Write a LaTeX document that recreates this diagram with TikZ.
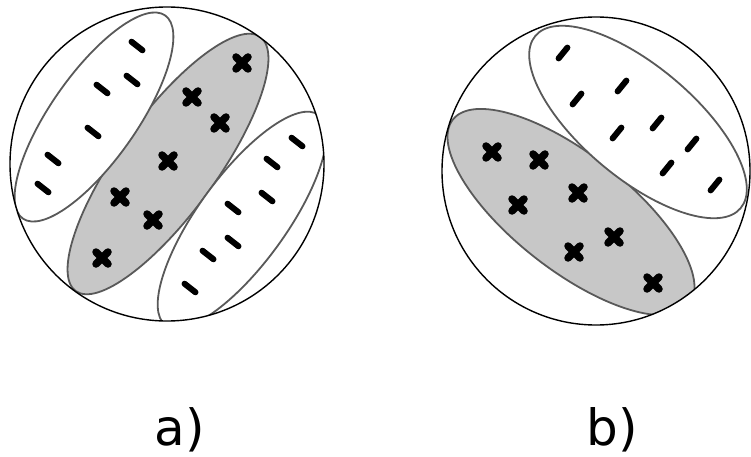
\documentclass[tikz,border=0pt]{standalone}
\usepackage{fontspec}
\setmainfont{DejaVu Sans}
\usepackage{tikz}
\usetikzlibrary{calc}
\tikzstyle{sphere} = [draw=black, line width=1.4pt]
\tikzstyle{cluster} = [draw=black!65, line width=1.8pt]
\tikzstyle{poscluster} = [cluster, fill=black!22]
\tikzstyle{negcluster} = [cluster, fill=white]
\tikzstyle{posmark} = [line width=7.5pt, line cap=round]
\tikzstyle{negmark} = [line width=6pt, line cap=round]
\tikzstyle{caption} = [anchor=base, font=\fontsize{50}{50}\selectfont]

\begin{document}
\begin{tikzpicture}[x=1pt, y=-1pt]
  \useasboundingbox (0,0) rectangle (751,457);
  \coordinate (ca) at (167,164);
  \coordinate (cb) at (596,171);

  % a) three groups
  \begin{scope}
    \clip (ca) circle [radius=157];
    \draw[poscluster, rotate around={54:(168,164)}] (168,164) ellipse [x radius=157, y radius=49];
    \draw[negcluster, rotate around={55:(94,117)}] (94,117) ellipse [x radius=124, y radius=43];
    \draw[negcluster, rotate around={54:(242,220)}] (242,220) ellipse [x radius=130, y radius=44];
  \end{scope}
  \draw[sphere] (ca) circle [radius=157];

  % b) two groups
  \begin{scope}
    \clip (cb) circle [radius=154];
    \draw[poscluster, rotate around={-38:(571,212)}] (571,212) ellipse [x radius=150, y radius=58];
    \draw[negcluster, rotate around={-40:(638,122)}] (638,122) ellipse [x radius=134, y radius=56];
  \end{scope}
  \draw[sphere] (cb) circle [radius=154];

  % samples
  \foreach \x/\y in {137/46, 132/80, 102/89, 93/132, 53/159, 43/188,
      297/142, 272/163, 267/197, 233/208, 233/242, 208/255, 190/288}
    \draw[negmark] (\x,\y) ++(-5.5,-4.3) -- ++(11,8.6);
  \foreach \x/\y in {563/53, 622/86, 577/99, 657/123, 617/133, 692/144,
      667/168, 715/185}
    \draw[negmark] (\x,\y) ++(-4.4,5.4) -- ++(8.8,-10.8);
  \foreach \x/\y in {242/63, 192/97, 220/123, 168/161, 120/197, 153/220,
      102/258, 492/152, 539/160, 578/193, 518/205, 614/237, 574/252, 653/283}
    \draw[posmark] (\x,\y) ++(-6,-6) -- ++(12,12) ++(0,-12) -- ++(-12,12);

  % captions
  \node[caption] (la) at (180,445) {a)};
  \node[caption] (lb) at (612,445) {b)};
\end{tikzpicture}
\end{document}
